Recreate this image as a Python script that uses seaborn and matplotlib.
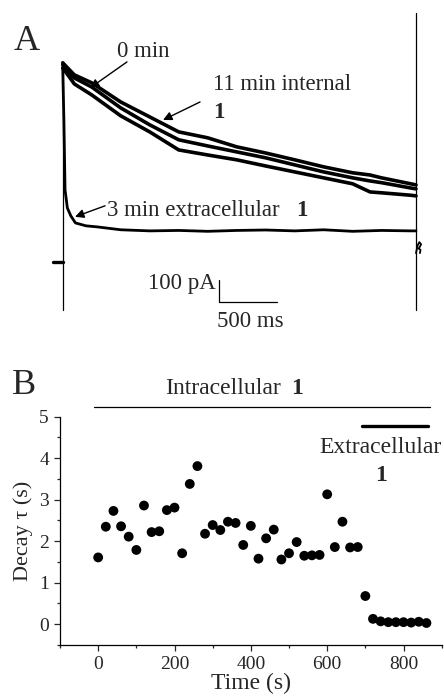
import numpy as np
import pandas as pd
import matplotlib
matplotlib.use('Agg')
import matplotlib.pyplot as plt
from matplotlib.ticker import MultipleLocator
import seaborn as sns

# --- panel A: current traces (ms, pA relative to holding baseline) ---
t_slow = [0, 100, 250, 500, 750, 1000, 1250, 1500, 1750, 2000, 2250, 2500, 2650, 2750, 3000, 3046]
i_0min = [905, 850, 814, 727, 659, 591, 564, 523, 495, 464, 432, 405, 395, 382, 355, 350]
i_11min = [895, 836, 795, 700, 623, 555, 527, 500, 473, 441, 409, 382, 368, 360, 336, 332]
i_5min = [882, 809, 759, 664, 591, 509, 486, 464, 436, 409, 382, 355, 318, 314, 303, 300]

t_fast = [0, 10, 20, 40, 70, 110, 200, 300, 500, 750, 1000, 1250, 1500, 1750,
          2000, 2250, 2500, 2750, 3000, 3046]
i_fast = [880, 645, 327, 245, 209, 177, 164, 159, 146, 141, 143, 139, 143, 145,
          141, 146, 139, 143, 141, 141]

# holding baseline and capacitive transients
base_t = [-86, 0]
base_i = [0, 0]
on_spike_i = [-218, 905]
off_spike_i = [-218, 1132]
tail_t = [3046, 3060, 3075, 3090, 3070, 3085, 3080]
tail_i = [40, 75, 90, 80, 60, 55, 40]

# --- panel B: decay time constants ---
time_s = [0, 20, 40, 60, 80, 100, 120, 140, 160, 180, 200, 220, 240, 260, 280, 300,
          320, 340, 360, 380, 400, 420, 440, 460, 480, 500, 520, 540, 560, 580, 600,
          620, 640, 660, 680, 700, 720, 740, 760, 780, 800, 820, 840, 860]
decay_tau = [1.61, 2.35, 2.73, 2.36, 2.11, 1.79, 2.86, 2.22, 2.24, 2.75, 2.81, 1.71,
             3.38, 3.81, 2.18, 2.39, 2.27, 2.47, 2.44, 1.91, 2.37, 1.58, 2.07, 2.28,
             1.56, 1.71, 1.98, 1.65, 1.66, 1.67, 3.13, 1.86, 2.47, 1.85, 1.86, 0.68,
             0.13, 0.07, 0.05, 0.05, 0.05, 0.04, 0.06, 0.03]
intra_bar = [-10, 870]
extra_bar = [690, 865]

sns.set_theme(style='ticks')
plt.rcParams['font.family'] = ['Liberation Serif', 'DejaVu Serif']

W, H = 444, 698
fig = plt.figure(figsize=(W / 100, H / 100), dpi=100)

# ---------------- A ----------------
axA = fig.add_axes([40 / W, 1 - 340 / H, 400 / W, 330 / H])
slow = pd.concat([
    pd.DataFrame({'t': t_slow, 'i': i_0min, 'trace': '0 min'}),
    pd.DataFrame({'t': t_slow, 'i': i_11min, 'trace': '11 min'}),
    pd.DataFrame({'t': t_slow, 'i': i_5min, 'trace': 'mid'}),
], ignore_index=True)
fast = pd.DataFrame({'t': t_fast, 'i': i_fast})
sns.lineplot(data=slow, x='t', y='i', units='trace', estimator=None, sort=False,
             color='black', lw=2.6, ax=axA, legend=False)
sns.lineplot(data=fast, x='t', y='i', estimator=None, sort=False,
             color='black', lw=2.0, ax=axA, legend=False)
axA.plot(base_t, base_i, color='black', lw=2.4)
axA.plot([0, 0], on_spike_i, color='black', lw=0.9)
axA.plot([3046, 3046], off_spike_i, color='black', lw=0.9)
axA.plot(tail_t, tail_i, color='black', lw=1.3)

# scale bar
axA.plot([1347, 1347, 1847], [-82, -182, -182], color='black', lw=0.9)
axA.text(1320, -100, '100 pA', ha='right', va='center', fontsize=16.5)
axA.text(1616, -273, '500 ms', ha='center', va='center', fontsize=16.5)

arrow = dict(arrowstyle='-|>', lw=1.0, color='black', mutation_scale=13, shrinkA=0, shrinkB=0)
axA.text(692, 955, '0 min', ha='center', va='center', fontsize=16.5)
axA.annotate('', xy=(236, 791), xytext=(554, 909), arrowprops=arrow)
axA.text(1297, 805, '11 min internal', ha='left', va='center', fontsize=16.5)
axA.text(1297, 677, '1', ha='left', va='center', fontsize=16.5, fontweight='bold')
axA.annotate('', xy=(865, 645), xytext=(1184, 727), arrowprops=arrow)
axA.text(383, 232, '3 min extracellular', ha='left', va='center', fontsize=16.5)
axA.text(2063, 232, '1', ha='center', va='center', fontsize=16.5, fontweight='bold')
axA.annotate('', xy=(106, 205), xytext=(365, 255), arrowprops=arrow)

axA.set_xlim(-196, 3253)
axA.set_ylim(-355, 1145)
axA.axis('off')

# ---------------- B ----------------
axB = fig.add_axes([60 / W, 1 - 645 / H, 381.7 / W, 228.3 / H])
sns.scatterplot(x=time_s, y=decay_tau, color='black', s=50, edgecolor='none', ax=axB)
axB.plot(intra_bar, [5.23, 5.23], color='black', lw=0.9, clip_on=False)
axB.plot(extra_bar, [4.78, 4.78], color='black', lw=2.4, clip_on=False)
axB.text(176, 5.67, 'Intracellular', ha='left', va='center', fontsize=17)
axB.text(520, 5.67, '1', ha='center', va='center', fontsize=17, fontweight='bold')
axB.text(740, 4.27, 'Extracellular', ha='center', va='center', fontsize=17)
axB.text(740, 3.59, '1', ha='center', va='center', fontsize=17, fontweight='bold')

axB.set_xlim(-100, 900)
axB.set_ylim(-0.5, 5)
axB.xaxis.set_major_locator(MultipleLocator(200))
axB.xaxis.set_minor_locator(MultipleLocator(100))
axB.yaxis.set_major_locator(MultipleLocator(1))
axB.yaxis.set_minor_locator(MultipleLocator(0.5))
axB.tick_params(which='major', direction='out', length=4, width=0.9, labelsize=14, pad=4)
axB.tick_params(which='minor', direction='out', length=2.5, width=0.9)
for s in ['top', 'right']:
    axB.spines[s].set_visible(False)
for s in ['left', 'bottom']:
    axB.spines[s].set_linewidth(0.9)
    axB.spines[s].set_color('black')
axB.set_xlabel('Time (s)', fontsize=17, labelpad=0)
axB.set_ylabel('Decay τ (s)', fontsize=16, labelpad=4)

fig.text(27 / W, 1 - 42 / H, 'A', fontsize=26, ha='center', va='center')
fig.text(24 / W, 1 - 385 / H, 'B', fontsize=26, ha='center', va='center')

fig.savefig('out.png', dpi=100)
